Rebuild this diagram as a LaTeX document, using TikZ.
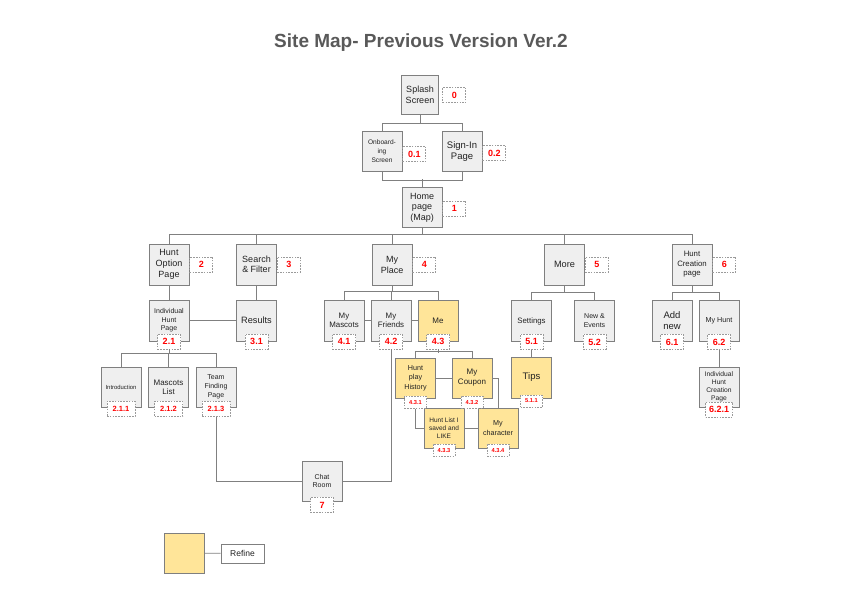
\documentclass[tikz,border=0pt]{standalone}
\usepackage{fontspec}
\setmainfont{Liberation Sans}
\newcommand{\fsz}[2]{\fontsize{#1}{#2}\selectfont}

\begin{document}
\begin{tikzpicture}[x=1pt,y=-1pt,
  page/.style={draw=boxgray,fill=pagegray,line width=0.8pt,minimum width=40pt,minimum height=40pt,inner sep=1pt,align=center,text=textgray},
  refpage/.style={page,fill=refyellow},
  tag/.style={draw=taggray,dash pattern=on 1.6pt off 1.2pt,line width=0.7pt,fill=white,text=tagred,font=\bfseries\fsz{9}{10},minimum width=23pt,minimum height=15pt,inner sep=1pt},
  smalltag/.style={tag,font=\bfseries\fsz{5.7}{7},minimum width=22pt,minimum height=12pt},
  link/.style={draw=linegray,line width=0.8pt}]
\definecolor{pagegray}{HTML}{EFEFEF}
\definecolor{refyellow}{HTML}{FFE599}
\definecolor{boxgray}{HTML}{7F7F7F}
\definecolor{linegray}{HTML}{808080}
\definecolor{taggray}{HTML}{9A9A9A}
\definecolor{tagred}{HTML}{FF0000}
\definecolor{textgray}{HTML}{222222}
\definecolor{titlegray}{HTML}{595959}
\useasboundingbox (0,0) rectangle (842,595);

\node[anchor=base,text=titlegray,font=\bfseries\fsz{19}{22}] (title) at (421,47) {Site Map- Previous Version Ver.2};

% start
\node[page,minimum width=37pt,minimum height=39pt,font=\fsz{9}{11}] (splash) at (420,95) {Splash\\Screen};
\node[page,font=\fsz{6.6}{9}] (onboard) at (382,151.5) {Onboard-\\ing\\Screen};
\node[page,font=\fsz{9.5}{11.5}] (signin) at (462,151.5) {Sign-In\\Page};
\node[page,font=\fsz{9}{10.5}] (home) at (422,207.5) {Home\\page\\(Map)};

% main menu
\node[page,minimum height=41pt,font=\fsz{9}{11}] (hunt) at (169,264.5) {Hunt\\Option\\Page};
\node[page,minimum height=41pt,font=\fsz{9}{10.5}] (search) at (256.5,264.5) {Search\\\& Filter};
\node[page,minimum height=41pt,font=\fsz{9}{11}] (place) at (392,264.5) {My\\Place};
\node[page,minimum height=41pt,font=\fsz{9.2}{11}] (more) at (564.5,264.5) {More};
\node[page,minimum height=41pt,font=\fsz{7.8}{9.5}] (create) at (692,264.5) {Hunt\\Creation\\page};

% sub pages
\node[page,minimum height=41pt,font=\fsz{7}{8.5}] (indiv) at (169,320.5) {Individual\\Hunt\\Page};
\node[page,minimum height=41pt,font=\fsz{9.2}{11}] (results) at (256.5,320.5) {Results};
\node[page,minimum height=41pt,font=\fsz{7.9}{9}] (mascots) at (344,320.5) {My\\Mascots};
\node[page,minimum height=41pt,font=\fsz{7.9}{9}] (friends) at (391,320.5) {My\\Friends};
\node[refpage,minimum height=41pt,font=\fsz{8}{9}] (me) at (438,320.5) {Me};
\node[page,minimum height=41pt,font=\fsz{7.8}{9}] (settings) at (531.5,321) {Settings};
\node[page,minimum height=41pt,font=\fsz{7}{9}] (events) at (594.5,321) {New \&\\Events};
\node[page,minimum height=41pt,font=\fsz{9.5}{11}] (addnew) at (672,321) {Add\\new};
\node[page,minimum height=41pt,font=\fsz{7.2}{9}] (myhunt) at (719,321) {My Hunt};

\node[page,font=\fsz{5.9}{7}] (intro) at (121,387) {Introduction};
\node[page,font=\fsz{8}{9}] (mlist) at (168.5,387) {Mascots\\List};
\node[page,font=\fsz{7}{9}] (team) at (216,387) {Team\\Finding\\Page};
\node[refpage,font=\fsz{7.2}{9.3}] (hist) at (415.5,378) {Hunt\\play\\History};
\node[refpage,font=\fsz{8}{10}] (coupon) at (472,378) {My\\Coupon};
\node[refpage,font=\fsz{6.5}{8}] (hlist) at (444,428) {Hunt List I\\saved and\\LIKE};
\node[refpage,font=\fsz{7.2}{9.3}] (mychar) at (498,428) {My\\character};
\node[refpage,minimum height=41pt,font=\fsz{9.5}{11}] (tips) at (531.5,377.5) {Tips};
\node[page,font=\fsz{6.7}{8}] (indcreate) at (719,387) {Individual\\Hunt\\Creation\\Page};
\node[page,font=\fsz{7}{8.7}] (chat) at (322,481) {Chat\\Room};

% legend
\node[refpage] (legend) at (184,553) {};
\node[draw=boxgray,fill=white,line width=0.8pt,minimum width=43pt,minimum height=19pt,inner sep=1pt,text=textgray,font=\fsz{8.5}{10}] (refine) at (242.5,553.5) {Refine};

% numbers
\foreach \nm/\tg/\dx/\dy in {splash/0/3.5/0,onboard/0.1/0/-2.5,signin/0.2/0/-1.5,home/1/0/-1,hunt/2/0/0,search/3/0/0,place/4/0/0,more/5/0/0,create/6/0/0}
  {\node[tag,anchor=west,xshift=\dx pt,yshift=\dy pt] (t\nm) at (\nm.east) {\tg};}
\foreach \nm/\tg in {indiv/2.1,results/3.1,mascots/4.1,friends/4.2,me/4.3,settings/5.1,events/5.2,addnew/6.1,myhunt/6.2}
  {\node[tag] (t\nm) at (\nm.south) {\tg};}
\foreach \nm/\tg in {intro/2.1.1,mlist/2.1.2,team/2.1.3}
  {\node[tag,font=\bfseries\fsz{7.5}{9},minimum width=28pt,yshift=-1.5pt] (t\nm) at (\nm.south) {\tg};}
\foreach \nm/\tg/\dy in {hist/4.3.1/-4,coupon/4.3.2/-4,hlist/4.3.3/-2,mychar/4.3.4/-2,tips/5.1.1/-2.5}
  {\node[smalltag,yshift=\dy pt] (t\nm) at (\nm.south) {\tg};}
\node[tag,minimum width=27pt,yshift=-2pt] (tindcreate) at (indcreate.south) {6.2.1};
\node[tag,yshift=-3.5pt] (tchat) at (chat.south) {7};

% links
\draw[link] (splash.south) -- ++(0,9);
\draw[link] (onboard.north) -- ++(0,-8) -| (signin.north);
\draw[link] (onboard.south) -- ++(0,8) -| (signin.south);
\draw[link] (home.north) -- ++(0,-8);
\draw[link] (home.south) -- ++(0,7.5);
\draw[link] (hunt.north) -- ++(0,-9) -| (create.north);
\foreach \nm in {search,place,more}
  {\draw[link] (\nm.north) -- ++(0,-9);}
\draw[link] (hunt) -- (indiv);
\draw[link] (search) -- (results);
\draw[link] (indiv) -- (results);
\draw[link] (place.south) -- ++(0,7);
\draw[link] (mascots.north) -- ++(0,-8.5) -| (me.north);
\draw[link] (friends.north) -- ++(0,-8.5);
\draw[link] (mascots) -- (friends);
\draw[link] (friends) -- (me);
\draw[link] (more.south) -- ++(0,8);
\draw[link] (settings.north) -- ++(0,-8) -| (events.north);
\draw[link] (create.south) -- ++(0,8);
\draw[link] (addnew.north) -- ++(0,-8) -| (myhunt.north);
\draw[link] (tindiv.south) -- ++(0,5);
\draw[link] (intro.north) -- ++(0,-13.5) -| (team.north);
\draw[link] (mlist.north) -- ++(0,-13.5);
\draw[link] (tteam.south) |- (chat.west);
\draw[link] (tfriends.south) |- (chat.east);
\draw[link] (tme.south) -- ++(0,3.5);
\draw[link] (hist.north) -- ++(0,-6) -| (coupon.north);
\draw[link] (hist) -- (coupon);
\draw[link] (thist.south) |- (hlist.west);
\draw[link] (hlist) -- (mychar);
\draw[link] (coupon.east) -| (mychar.north);
\draw[link] (tsettings.south) -- (tips.north);
\draw[link] (tmyhunt.south) -- (indcreate.north);
\draw[link] (legend) -- (refine);
\end{tikzpicture}
\end{document}
